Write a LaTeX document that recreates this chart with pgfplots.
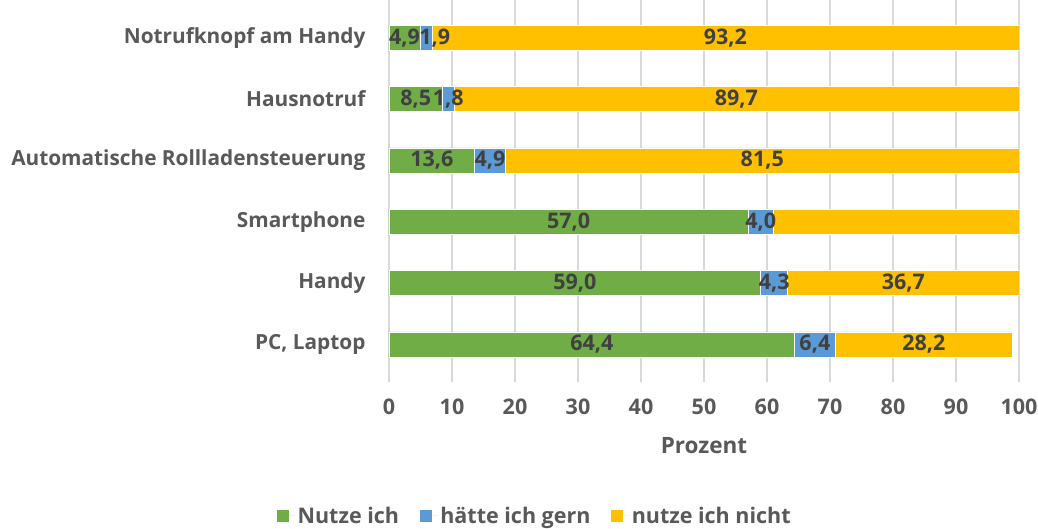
\documentclass[border=0pt]{standalone}
\usepackage{pgfplots}
\pgfplotsset{compat=1.18}
\usepackage{fontspec}
\setmainfont{Open Sans}
\definecolor{cgreen}{HTML}{70AD47}
\definecolor{cblue}{HTML}{5B9BD5}
\definecolor{cyellow}{HTML}{FFC000}
\definecolor{ctext}{HTML}{595959}
\definecolor{clab}{HTML}{404040}
\definecolor{cgrid}{HTML}{D9D9D9}
\newcommand{\lblfont}{\fontsize{21.5}{24}\selectfont\bfseries}
\begin{document}
\begin{tikzpicture}
\path[use as bounding box] (-389pt,-154pt) rectangle (649pt,375pt);
\begin{axis}[
  at={(0pt,0pt)}, anchor=south west,
  scale only axis, width=630pt, height=368pt,
  xbar stacked, bar width=25pt,
  xmin=0, xmax=100, ymin=-0.5, ymax=5.5,
  xtick={0,10,...,100},
  ytick={0,...,5},
  yticklabels={PC{,} Laptop, Handy, Smartphone, Automatische Rollladensteuerung, Hausnotruf, Notrufknopf am Handy},
  axis line style={draw=none},
  ytick style={draw=none},
  xtick align=outside, major tick length=7pt,
  xtick style={draw=cgrid, line width=1.5pt},
  xmajorgrids, grid style={draw=cgrid, line width=1.5pt},
  /pgf/number format/assume math mode=true,
  ticklabel style={font=\lblfont, text=ctext},
  xticklabel style={yshift=-13pt},
  yticklabel style={anchor=east, xshift=-20pt, font=\fontsize{20.8}{24}\selectfont\bfseries},
  xlabel={Prozent},
  every axis x label/.style={at={(axis description cs:0.5,0)}, anchor=center, yshift=-71pt, font=\fontsize{22.5}{26}\selectfont\bfseries, text=ctext},
  nodes near coords={\pgfmathprintnumber[fixed, fixed zerofill, precision=1, use comma, assume math mode=true]{\rawx}},
  visualization depends on=rawx \as \rawx,
  visualization depends on=rawy \as \rawy,
  every node near coord/.append style={anchor=center, font=\lblfont, text=clab, inner sep=0pt},
  legend columns=3,
  legend style={at={(146/630,-141/368)}, anchor=center, draw=none, fill=none,
    font=\lblfont, text=ctext,
    /tikz/every even column/.append style={column sep=19pt}},
  legend image code/.code={\fill[#1, draw=none] (0pt,-6pt) rectangle (12pt,6pt); \path (12pt,0pt) -- (18pt,0pt);},
]
\addplot[fill=cgreen, draw=white, line width=0.6pt] coordinates {(64.4,0) (59.0,1) (57.0,2) (13.6,3) (8.5,4) (4.9,5)};
\addplot[fill=cblue, draw=white, line width=0.6pt,
  every node near coord/.append style={xshift={(\rawy>4.5)*9pt}}] coordinates {(6.4,0) (4.3,1) (4.0,2) (4.9,3) (1.8,4) (1.9,5)};
\addplot[fill=cyellow, draw=white, line width=0.6pt] coordinates {(28.2,0) (36.7,1) (39.1,2) (81.5,3) (89.7,4) (93.2,5)};
\legend{Nutze ich, hätte ich gern, nutze ich nicht}
\end{axis}
\end{tikzpicture}
\end{document}
